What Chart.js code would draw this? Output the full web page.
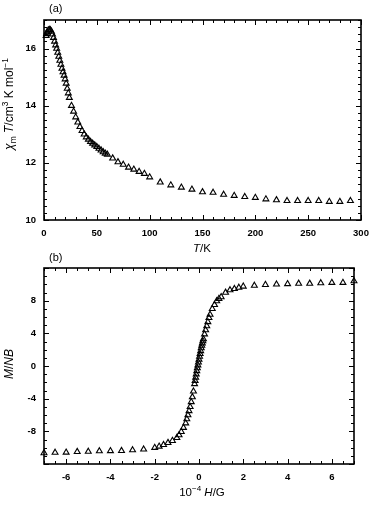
<!DOCTYPE html>
<html>
<head>
<meta charset="utf-8">
<script src="https://cdn.jsdelivr.net/npm/chart.js@4"></script>
<style>
  body { margin: 0; background: #fff; }
  #fig { position: relative; width: 373px; height: 505px; font-family: "Liberation Sans", Arial, sans-serif; color: #000; }
  #fig canvas { position: absolute; left: 0; }
  .lbl { position: absolute; font-size: 11px; line-height: 12px; white-space: nowrap; }
  .rot { transform: translate(-50%, -50%) rotate(-90deg); font-size: 12px; }
  .ctr { transform: translate(-50%, -50%); font-size: 11.5px; }
  sup, sub { font-size: 0.7em; line-height: 0; }
</style>
</head>
<body>
<div id="fig">
  <canvas id="chartA" width="373" height="250" style="top:0"></canvas>
  <canvas id="chartB" width="373" height="255" style="top:250px"></canvas>

  <div class="lbl" style="left:49px; top:2px">(a)</div>
  <div class="lbl rot" style="left:9px; top:104px"><i>χ</i><sub>m</sub> <i>T</i>/cm<sup>3</sup> K mol<sup>−1</sup></div>
  <div class="lbl ctr" style="left:202px; top:248px"><i>T</i>/K</div>

  <div class="lbl" style="left:49px; top:251px">(b)</div>
  <div class="lbl rot" style="left:9px; top:364px"><i>M</i>/<i>NB</i></div>
  <div class="lbl ctr" style="left:202px; top:492px">10<sup>−4</sup> <i>H</i>/G</div>
</div>

<script>
// (a) chi_m T vs T
const tempK = [2, 2.5, 3, 4, 5, 6, 7, 8, 9, 10, 11, 12, 13, 14, 15, 16, 17, 18, 19, 20,
    21, 22, 23, 24, 26, 28, 30, 32, 34, 36, 38, 40, 42, 44, 46, 48, 50, 52, 54, 56, 58, 60,
    65, 70, 75, 80, 85, 90, 95, 100, 110, 120, 130, 140, 150, 160, 170, 180, 190, 200,
    210, 220, 230, 240, 250, 260, 270, 280, 290];
const chiT = [16.45, 16.52, 16.58, 16.64, 16.66, 16.65, 16.6, 16.5, 16.38, 16.25, 16.12, 16.0,
    15.86, 15.72, 15.58, 15.44, 15.3, 15.18, 15.06, 14.93, 14.78, 14.6, 14.44, 14.28, 14.0,
    13.8, 13.6, 13.42, 13.26, 13.12, 13.0, 12.9, 12.82, 12.74, 12.68, 12.62, 12.56, 12.5,
    12.44, 12.38, 12.33, 12.29, 12.16, 12.03, 11.94, 11.84, 11.77, 11.69, 11.62, 11.5,
    11.32, 11.22, 11.14, 11.07, 10.98, 10.96, 10.89, 10.85, 10.81, 10.78, 10.73, 10.7,
    10.67, 10.67, 10.67, 10.67, 10.64, 10.64, 10.67];
const xTicksA = [0, 50, 100, 150, 200, 250, 300];
const yTicksA = [10, 12, 14, 16];

// (b) M/NB vs 10^-4 H
const fieldH = [-7, -6.5, -6, -5.5, -5, -4.5, -4, -3.5, -3, -2.5, -2, -1.8, -1.6, -1.4, -1.2,
    -1.0, -0.9, -0.8, -0.7, -0.6, -0.55, -0.5, -0.45, -0.4, -0.35, -0.3, -0.25, -0.2, -0.175,
    -0.15, -0.125, -0.1, -0.075, -0.05, -0.025, 0, 0.025, 0.05, 0.075, 0.1, 0.125, 0.15, 0.175,
    0.2, 0.25, 0.3, 0.35, 0.4, 0.45, 0.5, 0.6, 0.7, 0.8, 0.9, 1.0, 1.2, 1.4, 1.6, 1.8, 2.0,
    2.5, 3, 3.5, 4, 4.5, 5, 5.5, 6, 6.5, 7];
const magM = [-10.65, -10.6, -10.58, -10.5, -10.48, -10.42, -10.4, -10.38, -10.3, -10.2, -10.0,
    -9.85, -9.65, -9.4, -9.15, -8.8, -8.45, -8.05, -7.55, -7.0, -6.5, -6.0, -5.5, -5.0, -4.4,
    -3.8, -3.1, -2.2, -1.8, -1.4, -1.0, -0.6, -0.25, 0.1, 0.45, 0.8, 1.15, 1.5, 1.85, 2.2, 2.5,
    2.8, 3.05, 3.3, 3.9, 4.4, 4.9, 5.4, 5.9, 6.3, 7.0, 7.5, 7.95, 8.25, 8.45, 9.0, 9.3, 9.45,
    9.6, 9.75, 9.85, 9.95, 10.0, 10.05, 10.1, 10.1, 10.15, 10.2, 10.2, 10.4];
const xTicksB = [-6, -4, -2, 0, 2, 4, 6];
const yTicksB = [-8, -4, 0, 4, 8];

Chart.defaults.font.family = '"Liberation Sans", Arial, sans-serif';
Chart.defaults.color = '#000';

// box frame with inward major/minor ticks on all four sides
const frameTicks = {
    id: 'frameTicks',
    afterDatasetsDraw(chart, args, opts) {
        const { ctx, chartArea: a, scales: { x, y } } = chart;
        const isMajor = (v, step) => Math.abs(v / step - Math.round(v / step)) < 1e-6;
        ctx.save();
        ctx.strokeStyle = '#000';
        ctx.lineWidth = 1;
        ctx.beginPath();
        for (let i = 0; x.min + i * opts.xMinor <= x.max + 1e-9; i++) {
            const v = x.min + i * opts.xMinor;
            const px = Math.round(x.getPixelForValue(v)) + 0.5;
            const len = isMajor(v, opts.xMajor) ? 5 : 3;
            ctx.moveTo(px, a.bottom); ctx.lineTo(px, a.bottom - len);
            ctx.moveTo(px, a.top); ctx.lineTo(px, a.top + len);
        }
        for (let i = 0; y.min + i * opts.yMinor <= y.max + 1e-9; i++) {
            const v = y.min + i * opts.yMinor;
            const py = Math.round(y.getPixelForValue(v)) + 0.5;
            const len = isMajor(v, opts.yMajor) ? 5 : 3;
            ctx.moveTo(a.left, py); ctx.lineTo(a.left + len, py);
            ctx.moveTo(a.right, py); ctx.lineTo(a.right - len, py);
        }
        ctx.stroke();
        ctx.lineWidth = 1.6;
        ctx.strokeRect(a.left, a.top, a.right - a.left, a.bottom - a.top);
        ctx.restore();
    }
};

function makePanel(canvasId, xs, ys, cfg) {
    const pts = xs.map((v, i) => ({ x: v, y: ys[i] }));
    return new Chart(document.getElementById(canvasId), {
        type: 'scatter',
        data: {
            datasets: [{
                data: pts,
                pointStyle: 'triangle',
                pointRadius: 3.4,
                pointBorderWidth: 1.1,
                borderColor: '#000',
                backgroundColor: 'rgba(0,0,0,0)',
                clip: false
            }]
        },
        options: {
            responsive: false,
            animation: false,
            layout: { padding: cfg.padding },
            plugins: {
                legend: { display: false },
                tooltip: { enabled: false },
                frameTicks: cfg.ticks
            },
            scales: {
                x: {
                    type: 'linear',
                    min: cfg.xMin, max: cfg.xMax,
                    grid: { display: false },
                    border: { display: false },
                    afterBuildTicks: s => { s.ticks = cfg.xLabels.map(v => ({ value: v })); },
                    ticks: {
                        padding: 0,
                        maxRotation: 0,
                        autoSkip: false,
                        font: { size: 9.5, weight: 'bold' }
                    },
                    afterFit: s => { s.height = cfg.xAxisH; }
                },
                y: {
                    type: 'linear',
                    min: cfg.yMin, max: cfg.yMax,
                    grid: { display: false },
                    border: { display: false },
                    afterBuildTicks: s => { s.ticks = cfg.yLabels.map(v => ({ value: v })); },
                    ticks: {
                        padding: 0,
                        autoSkip: false,
                        font: { size: 9.5, weight: 'bold' }
                    },
                    afterFit: s => { s.width = 44; }
                }
            }
        },
        plugins: [frameTicks]
    });
}

makePanel('chartA', tempK, chiT, {
    xMin: 0, xMax: 300, yMin: 10, yMax: 17,
    xLabels: xTicksA, yLabels: yTicksA,
    xAxisH: 30,
    padding: { top: 20, right: 12, left: 0, bottom: 0 },
    ticks: { xMajor: 50, xMinor: 10, yMajor: 2, yMinor: 0.25 }
});

makePanel('chartB', fieldH, magM, {
    xMin: -7, xMax: 7, yMin: -12, yMax: 12,
    xLabels: xTicksB, yLabels: yTicksB,
    xAxisH: 41,
    padding: { top: 18, right: 19, left: 0, bottom: 0 },
    ticks: { xMajor: 2, xMinor: 0.5, yMajor: 4, yMinor: 1 }
});
</script>
</body>
</html>
